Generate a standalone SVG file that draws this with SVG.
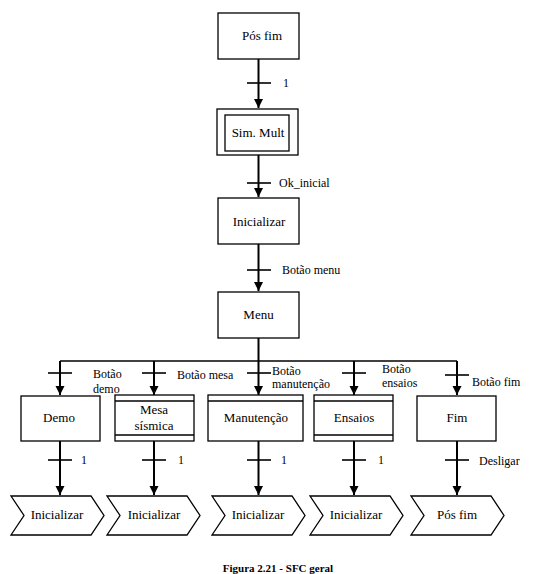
<svg xmlns="http://www.w3.org/2000/svg" width="535" height="574" viewBox="0 0 535 574">
<style>
.box{fill:#fff;stroke:#000;stroke-width:1.3}
.ln{fill:none;stroke:#000;stroke-width:1.3}
.wire{fill:none;stroke:#000;stroke-width:2}
.bar{stroke:#000;stroke-width:1.6}
.t{font-family:"Liberation Serif","Times New Roman",serif;font-size:13px;fill:#000;text-anchor:middle}
.lb{font-family:"Liberation Serif","Times New Roman",serif;font-size:12px;fill:#000}
.cap{font-family:"Liberation Serif","Times New Roman",serif;font-size:11px;font-weight:bold;fill:#000;text-anchor:middle}
</style>
<defs>
<marker id="ah" markerWidth="10" markerHeight="10" refX="9" refY="5" orient="auto" markerUnits="userSpaceOnUse">
<path d="M0,0.5 L9,5 L0,9.5 Z" fill="#000"/>
</marker>
</defs>

<g id="connectors">
<line class="wire" x1="258.5" y1="59" x2="258.5" y2="108" marker-end="url(#ah)"/>
<line class="bar" x1="247" y1="83" x2="271" y2="83"/>
<line class="wire" x1="258.5" y1="155" x2="258.5" y2="197" marker-end="url(#ah)"/>
<line class="bar" x1="247" y1="183" x2="271" y2="183"/>
<line class="wire" x1="258.5" y1="244" x2="258.5" y2="291" marker-end="url(#ah)"/>
<line class="bar" x1="247" y1="270" x2="271" y2="270"/>
<line class="wire" x1="258.5" y1="338" x2="258.5" y2="361"/>
<line class="ln" x1="60" y1="361" x2="457" y2="361" stroke-width="1.5"/>
<line class="wire" x1="60" y1="361" x2="60" y2="395" marker-end="url(#ah)"/>
<line class="bar" x1="48" y1="373" x2="72" y2="373"/>
<line class="wire" x1="154" y1="361" x2="154" y2="395" marker-end="url(#ah)"/>
<line class="bar" x1="142" y1="373" x2="166" y2="373"/>
<line class="wire" x1="258.5" y1="361" x2="258.5" y2="395" marker-end="url(#ah)"/>
<line class="bar" x1="247" y1="373" x2="271" y2="373"/>
<line class="wire" x1="354" y1="361" x2="354" y2="395" marker-end="url(#ah)"/>
<line class="bar" x1="342" y1="373" x2="366" y2="373"/>
<line class="wire" x1="457" y1="361" x2="457" y2="395" marker-end="url(#ah)"/>
<line class="bar" x1="445" y1="375" x2="469" y2="375"/>
<line class="wire" x1="60" y1="441" x2="60" y2="495" marker-end="url(#ah)"/>
<line class="bar" x1="48" y1="460" x2="72" y2="460"/>
<line class="wire" x1="154" y1="441" x2="154" y2="495" marker-end="url(#ah)"/>
<line class="bar" x1="142" y1="460" x2="166" y2="460"/>
<line class="wire" x1="258.5" y1="441" x2="258.5" y2="495" marker-end="url(#ah)"/>
<line class="bar" x1="247" y1="460" x2="271" y2="460"/>
<line class="wire" x1="354" y1="441" x2="354" y2="495" marker-end="url(#ah)"/>
<line class="bar" x1="342" y1="460" x2="366" y2="460"/>
<line class="wire" x1="457" y1="441" x2="457" y2="495" marker-end="url(#ah)"/>
<line class="bar" x1="445" y1="460" x2="469" y2="460"/>
<text class="lb" x="283" y="87" font-size="10">1</text>
<text class="lb" x="279" y="187">Ok_inicial</text>
<text class="lb" x="282" y="274">Botão menu</text>
<text class="lb" x="93" y="378">Botão</text>
<text class="lb" x="93" y="393">demo</text>
<text class="lb" x="177" y="379">Botão mesa</text>
<text class="lb" x="272" y="375">Botão</text>
<text class="lb" x="272" y="388">manutenção</text>
<text class="lb" x="382" y="373">Botão</text>
<text class="lb" x="382" y="387">ensaios</text>
<text class="lb" x="472" y="386">Botão fim</text>
<text class="lb" x="81" y="464">1</text>
<text class="lb" x="178" y="464">1</text>
<text class="lb" x="281" y="464">1</text>
<text class="lb" x="378" y="464">1</text>
<text class="lb" x="479" y="465">Desligar</text>
</g>

<g id="n-posfim-top">
<rect class="box" x="218" y="13" width="81" height="46"/>
<text class="t" x="262" y="40">Pós fim</text>
</g>
<g id="n-simmult">
<rect class="box" x="217" y="109" width="81" height="46"/>
<rect class="box" x="225" y="115" width="64" height="36"/>
<text class="t" x="258" y="137">Sim. Mult</text>
</g>
<g id="n-inicializar">
<rect class="box" x="218" y="198" width="81" height="46"/>
<text class="t" x="259" y="226">Inicializar</text>
</g>
<g id="n-menu">
<rect class="box" x="218" y="292" width="81" height="46"/>
<text class="t" x="258.5" y="319">Menu</text>
</g>
<g id="n-demo">
<rect class="box" x="21" y="396" width="79" height="45"/>
<text class="t" x="59" y="422">Demo</text>
</g>
<g id="n-mesa">
<rect class="box" x="115" y="395" width="79" height="46"/>
<line class="ln" x1="115" y1="401" x2="194" y2="401"/>
<line class="ln" x1="115" y1="435" x2="194" y2="435"/>
<text class="t" x="154" y="414">Mesa</text>
<text class="t" x="154" y="430">sísmica</text>
</g>
<g id="n-manutencao">
<rect class="box" x="208" y="395" width="95" height="46"/>
<line class="ln" x1="208" y1="401" x2="303" y2="401"/>
<text class="t" x="256" y="422">Manutenção</text>
</g>
<g id="n-ensaios">
<rect class="box" x="314" y="395" width="79" height="46"/>
<line class="ln" x1="314" y1="401" x2="393" y2="401"/>
<line class="ln" x1="314" y1="435" x2="393" y2="435"/>
<text class="t" x="354" y="422">Ensaios</text>
</g>
<g id="n-fim">
<rect class="box" x="417" y="396" width="79" height="45"/>
<text class="t" x="457" y="422">Fim</text>
</g>

<g id="n-ini1">
<path class="box" d="M11,496 H91 L104,515.5 L91,535 H11 L24,515.5 Z"/>
<text class="t" x="57" y="519">Inicializar</text>
</g>
<g id="n-ini2">
<path class="box" d="M107,496 H187 L200,515.5 L187,535 H107 L120,515.5 Z"/>
<text class="t" x="154" y="519">Inicializar</text>
</g>
<g id="n-ini3">
<path class="box" d="M212,496 H292 L305,515.5 L292,535 H212 L225,515.5 Z"/>
<text class="t" x="258" y="519">Inicializar</text>
</g>
<g id="n-ini4">
<path class="box" d="M310,496 H390 L403,515.5 L390,535 H310 L323,515.5 Z"/>
<text class="t" x="356" y="519">Inicializar</text>
</g>
<g id="n-posfim-bottom">
<path class="box" d="M411,496 H491 L504,515.5 L491,535 H411 L424,515.5 Z"/>
<text class="t" x="457" y="519">Pós fim</text>
</g>

<text class="cap" x="278" y="572">Figura 2.21 - SFC geral</text>
</svg>
